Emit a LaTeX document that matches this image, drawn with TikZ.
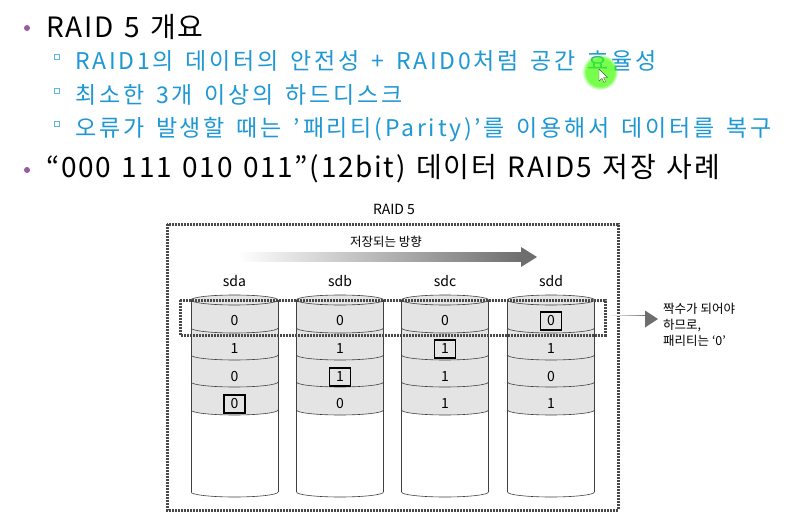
\documentclass[tikz,border=0pt]{standalone}
\usepackage{fontspec}
\setmainfont{Noto Sans CJK KR}
\newfontfamily\subfont[LetterSpace=12, WordSpace=1.5]{Noto Sans CJK KR}
\newfontfamily\headfont[LetterSpace=6, WordSpace=1.35]{Noto Sans CJK KR}
\usetikzlibrary{fadings}
\definecolor{slideblue}{HTML}{1E98D4}
\definecolor{bulletpurple}{HTML}{9A5AA3}
\definecolor{rowgray}{HTML}{E4E4E4}
\definecolor{dotgray}{HTML}{484848}
\definecolor{arrowgray}{HTML}{6E6E6E}
\tikzset{
  maintext/.style={anchor=base west, inner sep=0pt, font=\headfont\fontsize{28}{30}\selectfont},
  subtext/.style={anchor=base west, inner sep=0pt, text=slideblue, font=\subfont\fontsize{23}{26}\selectfont},
  disklabel/.style={inner sep=0pt, font=\fontsize{14}{16}\selectfont},
  bitval/.style={inner sep=0pt, font=\fontsize{14}{16}\selectfont},
  paritybox/.style={bitval, draw=black, line width=1.3pt, minimum width=21pt, minimum height=18pt},
  dotframe/.style={draw=dotgray, line width=3pt, dash pattern=on 2pt off 1pt},
  diskline/.style={draw=black!75, line width=0.6pt}
}
\begin{document}
\begin{tikzpicture}[x=1pt,y=-1pt]
\useasboundingbox[fill=white] (0,0) rectangle (806,516);

% bullets and slide text
\fill[bulletpurple] (27,28) circle (3pt);
\node[maintext] (title) at (46,38) {RAID 5 개요};
\foreach \yy/\txt [count=\i] in {70/{RAID1의 데이터의 안전성 + RAID0처럼 공간 효율성},
                                 104/{최소한 3개 이상의 하드디스크},
                                 137/{오류가 발생할 때는 ’패리티(Parity)’를 이용해서 데이터를 복구}}{
  \draw[slideblue!70, line width=0.6pt] (54.5,\yy-10.5) rectangle +(5,-5);
  \node[subtext] (sub\i) at (75,\yy) {\txt};
}
\fill[bulletpurple] (27,170) circle (3pt);
\node[maintext] (example) at (46,178) {“000 111 010 011”(12bit) 데이터 RAID5 저장 사례};

% pointer glow
\fill[green!75!yellow, path fading=circle with fuzzy edge 20 percent, opacity=0.7] (600,72) circle (18pt);
\filldraw[fill=white, draw=black!70, line width=0.4pt] (599,69) -- (599,81) -- (602,78.5) -- (604,82.5) -- (605.5,81.5) -- (603.5,77.5) -- (607.5,77.5) -- cycle;

% RAID 5 frame
\node[disklabel] (raid) at (394,209) {RAID 5};
\draw[dotframe] (167,224) rectangle (618,510);
\node[inner sep=0pt, font=\fontsize{12.5}{14}\selectfont] (dir) at (386,242) {저장되는 방향};
\shade[left color=white, right color=arrowgray] (238,252.5) rectangle (522,261.5);
\fill[arrowgray] (521,247) -- (537,257) -- (521,267) -- cycle;

% disks
\foreach \cx/\dname in {234.5/sda, 340/sdb, 445/sdc, 551/sdd}{
  \node[disklabel] (\dname) at (\cx,281) {\dname};
  \fill[white] (\cx-43.5,300) -- (\cx-43.5,492) arc[start angle=180, end angle=360, x radius=43.5pt, y radius=5pt] -- (\cx+43.5,300) -- cycle;
  \fill[rowgray] (\cx-43.5,300) -- (\cx-43.5,410) arc[start angle=180, end angle=360, x radius=43.5pt, y radius=5pt] -- (\cx+43.5,300) -- cycle;
  \filldraw[diskline, fill=rowgray] (\cx,300) ellipse[x radius=43.5pt, y radius=5pt];
  \foreach \by in {328,355,382,410,492}
    \draw[diskline] (\cx-43.5,\by) arc[start angle=180, end angle=360, x radius=43.5pt, y radius=5pt];
  \draw[diskline] (\cx-43.5,300) -- (\cx-43.5,492);
  \draw[diskline] (\cx+43.5,300) -- (\cx+43.5,492);
}

% stored bits, parity row boxed
\foreach \cx/\a/\b/\c/\d/\prow [count=\k] in {234.5/0/1/0/0/4, 340/0/1/1/0/3, 445/0/1/1/1/2, 551/0/1/0/1/1}{
  \foreach \v/\ry [count=\r] in {\a/321, \b/349, \c/377, \d/404}{
    \ifnum\r=\prow
      \node[paritybox] (bit\k\r) at (\cx,\ry) {\v};
    \else
      \node[bitval] (bit\k\r) at (\cx,\ry) {\v};
    \fi
  }
}

% parity stripe and note
\draw[dotframe] (180,300) rectangle (605,335);
\coordinate (stripe) at (608,319);
\node[anchor=north west, inner sep=0pt, align=left, font=\fontsize{12.5}{16}\selectfont] (note) at (663,303) {짝수가 되어야\\하므로,\\패리티는 ‘0’};
\coordinate (notein) at (658,319);
\shade[left color=white, right color=arrowgray] (stripe) ++(0,-4) rectangle ([xshift=-12pt,yshift=4pt]notein);
\fill[arrowgray] ([xshift=-13pt,yshift=-8.5pt]notein) -- (notein) -- ([xshift=-13pt,yshift=8.5pt]notein) -- cycle;
\end{tikzpicture}
\end{document}
